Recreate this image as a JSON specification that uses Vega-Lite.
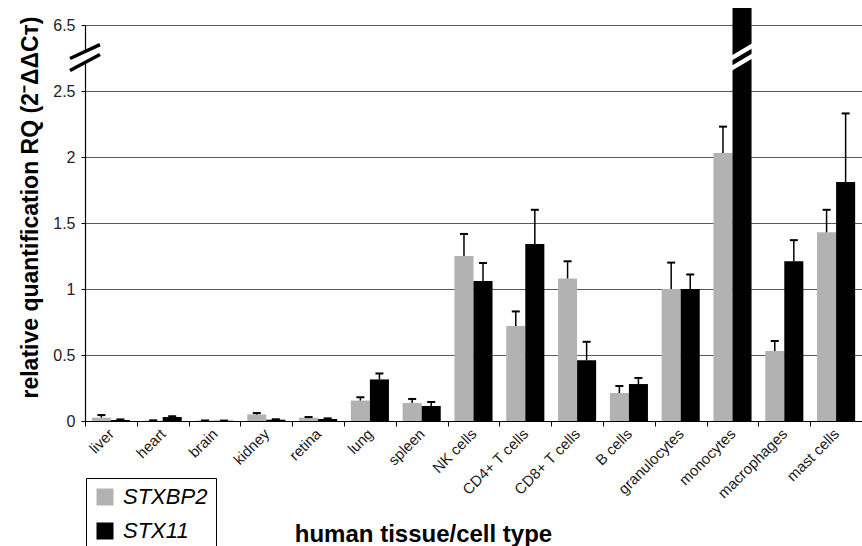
{
  "$schema": "https://vega.github.io/schema/vega-lite/v6.json",
  "autosize": {"type": "none"},
  "width": 777,
  "height": 413,
  "padding": {"left": 85, "top": 8, "right": 0, "bottom": 125},
  "background": "white",
  "config": {
    "font": "Liberation Sans",
    "view": {"stroke": null}
  },
  "datasets": {
    "expr": [
      {"tissue": "liver", "gene": "STXBP2", "value": 0.025, "upper": 0.045},
      {"tissue": "liver", "gene": "STX11", "value": 0.008, "upper": 0.012},
      {"tissue": "heart", "gene": "STXBP2", "value": 0.003, "upper": 0.005},
      {"tissue": "heart", "gene": "STX11", "value": 0.03, "upper": 0.036},
      {"tissue": "brain", "gene": "STXBP2", "value": 0.003, "upper": 0.004},
      {"tissue": "brain", "gene": "STX11", "value": 0.002, "upper": 0.003},
      {"tissue": "kidney", "gene": "STXBP2", "value": 0.05, "upper": 0.06},
      {"tissue": "kidney", "gene": "STX11", "value": 0.01, "upper": 0.013},
      {"tissue": "retina", "gene": "STXBP2", "value": 0.025, "upper": 0.03},
      {"tissue": "retina", "gene": "STX11", "value": 0.015, "upper": 0.02},
      {"tissue": "lung", "gene": "STXBP2", "value": 0.155, "upper": 0.18},
      {"tissue": "lung", "gene": "STX11", "value": 0.315, "upper": 0.36},
      {"tissue": "spleen", "gene": "STXBP2", "value": 0.136, "upper": 0.167},
      {"tissue": "spleen", "gene": "STX11", "value": 0.114, "upper": 0.144},
      {"tissue": "NK cells", "gene": "STXBP2", "value": 1.25, "upper": 1.417},
      {"tissue": "NK cells", "gene": "STX11", "value": 1.06, "upper": 1.197},
      {"tissue": "CD4+ T cells", "gene": "STXBP2", "value": 0.72, "upper": 0.83},
      {"tissue": "CD4+ T cells", "gene": "STX11", "value": 1.34, "upper": 1.6},
      {"tissue": "CD8+ T cells", "gene": "STXBP2", "value": 1.08, "upper": 1.21},
      {"tissue": "CD8+ T cells", "gene": "STX11", "value": 0.46, "upper": 0.6},
      {"tissue": "B cells", "gene": "STXBP2", "value": 0.212, "upper": 0.265},
      {"tissue": "B cells", "gene": "STX11", "value": 0.28, "upper": 0.326},
      {"tissue": "granulocytes", "gene": "STXBP2", "value": 1.0, "upper": 1.2},
      {"tissue": "granulocytes", "gene": "STX11", "value": 1.0, "upper": 1.11},
      {"tissue": "monocytes", "gene": "STXBP2", "value": 2.03, "upper": 2.23},
      {"tissue": "monocytes", "gene": "STX11", "value": 7.53, "upper": null},
      {"tissue": "macrophages", "gene": "STXBP2", "value": 0.53, "upper": 0.606},
      {"tissue": "macrophages", "gene": "STX11", "value": 1.21, "upper": 1.37},
      {"tissue": "mast cells", "gene": "STXBP2", "value": 1.43, "upper": 1.6},
      {"tissue": "mast cells", "gene": "STX11", "value": 1.81, "upper": 2.33}
    ],
    "axisbreak": [
      {"tissue": "liver", "y": 4.56}
    ],
    "barbreak": [
      {"tissue": "monocytes", "gene": "STX11", "y": 4.56}
    ]
  },
  "encoding": {
    "x": {
      "field": "tissue",
      "type": "nominal",
      "sort": null,
      "scale": {
        "domain": ["liver", "heart", "brain", "kidney", "retina", "lung", "spleen", "NK cells", "CD4+ T cells", "CD8+ T cells", "B cells", "granulocytes", "monocytes", "macrophages", "mast cells"],
        "paddingInner": 0,
        "paddingOuter": 0
      },
      "axis": {
        "title": "human tissue/cell type",
        "titleFontSize": 24,
        "titleFontWeight": "bold",
        "titleColor": "black",
        "titleX": 338,
        "titleY": 120,
        "titleAlign": "center",
        "titleBaseline": "alphabetic",
        "labelAngle": -45,
        "labelAlign": "right",
        "labelBaseline": "middle",
        "labelFontSize": 15,
        "labelColor": "#1a1a1a",
        "labelPadding": 5,
        "tickBand": "extent",
        "tickSize": 5,
        "tickColor": "black",
        "domainColor": "black",
        "domainWidth": 1.2,
        "grid": false
      }
    }
  },
  "layer": [
    {
      "data": {"name": "expr"},
      "mark": {"type": "bar", "clip": false},
      "encoding": {
        "xOffset": {
          "field": "gene",
          "type": "nominal",
          "sort": null,
          "scale": {"domain": ["STXBP2", "STX11"], "paddingInner": 0, "paddingOuter": 0.36}
        },
        "y": {
          "field": "value",
          "type": "quantitative",
          "scale": {"domain": [0, 2.5, 6.5], "range": [413, 83, 17], "nice": false, "zero": false},
          "axis": {
            "title": "relative quantification RQ (2⁻ΔΔCᴛ)",
            "titleFontSize": 23,
            "titleFontWeight": "bold",
            "titleColor": "black",
            "titleAngle": -90,
            "titleX": -55,
            "titleY": 199,
            "titleAlign": "center",
            "titleBaseline": "middle",
            "values": [0, 0.5, 1, 1.5, 2, 2.5, 6.5],
            "format": "~g",
            "labelFontSize": 16,
            "labelColor": "#222222",
            "labelPadding": 6,
            "tickSize": 4,
            "tickColor": "black",
            "domainColor": "black",
            "domainWidth": 1.2,
            "grid": true,
            "gridColor": "#5a5a5a",
            "gridWidth": 1
          }
        },
        "color": {
          "field": "gene",
          "type": "nominal",
          "scale": {"domain": ["STXBP2", "STX11"], "range": ["#b2b2b2", "#000000"]},
          "legend": {
            "title": null,
            "orient": "none",
            "legendX": 1,
            "legendY": 470,
            "padding": 8,
            "strokeColor": "black",
            "fillColor": "white",
            "symbolType": "square",
            "symbolSize": 289,
            "symbolStrokeWidth": 0,
            "labelFontSize": 22,
            "labelFontStyle": "italic",
            "labelColor": "black",
            "labelOffset": 7,
            "rowPadding": 12
          }
        }
      }
    },
    {
      "data": {"name": "expr"},
      "transform": [{"filter": "datum.upper != null"}],
      "mark": {"type": "rule", "color": "black", "strokeWidth": 1.5},
      "encoding": {
        "xOffset": {"field": "gene", "type": "nominal", "sort": null},
        "y": {"field": "value", "type": "quantitative"},
        "y2": {"field": "upper"}
      }
    },
    {
      "data": {"name": "expr"},
      "transform": [{"filter": "datum.upper != null"}],
      "mark": {"type": "tick", "color": "black", "size": 8, "thickness": 2, "opacity": 1},
      "encoding": {
        "xOffset": {"field": "gene", "type": "nominal", "sort": null},
        "y": {"field": "upper", "type": "quantitative"}
      }
    },
    {
      "data": {"name": "axisbreak"},
      "mark": {
        "type": "point",
        "shape": "M-1,0.1L1,-0.83L1,-0.17L-1,0.9Z",
        "filled": true,
        "fill": "white",
        "strokeWidth": 0,
        "size": 900,
        "opacity": 1
      },
      "encoding": {
        "x": {"field": "tissue", "type": "nominal", "sort": null, "bandPosition": 0},
        "y": {"field": "y", "type": "quantitative"}
      }
    },
    {
      "data": {"name": "axisbreak"},
      "mark": {
        "type": "point",
        "shape": "M-1,0.1L1,-0.83M-1,0.9L1,-0.17",
        "filled": false,
        "stroke": "black",
        "strokeWidth": 3.5,
        "size": 900,
        "opacity": 1
      },
      "encoding": {
        "x": {"field": "tissue", "type": "nominal", "sort": null, "bandPosition": 0},
        "y": {"field": "y", "type": "quantitative"}
      }
    },
    {
      "data": {"name": "barbreak"},
      "mark": {
        "type": "point",
        "shape": "M-1,0.28L1,-0.9M-1,0.9L1,-0.28",
        "filled": false,
        "stroke": "white",
        "strokeWidth": 4.5,
        "size": 1089,
        "opacity": 1
      },
      "encoding": {
        "xOffset": {"field": "gene", "type": "nominal", "sort": null},
        "y": {"field": "y", "type": "quantitative"}
      }
    }
  ]
}
